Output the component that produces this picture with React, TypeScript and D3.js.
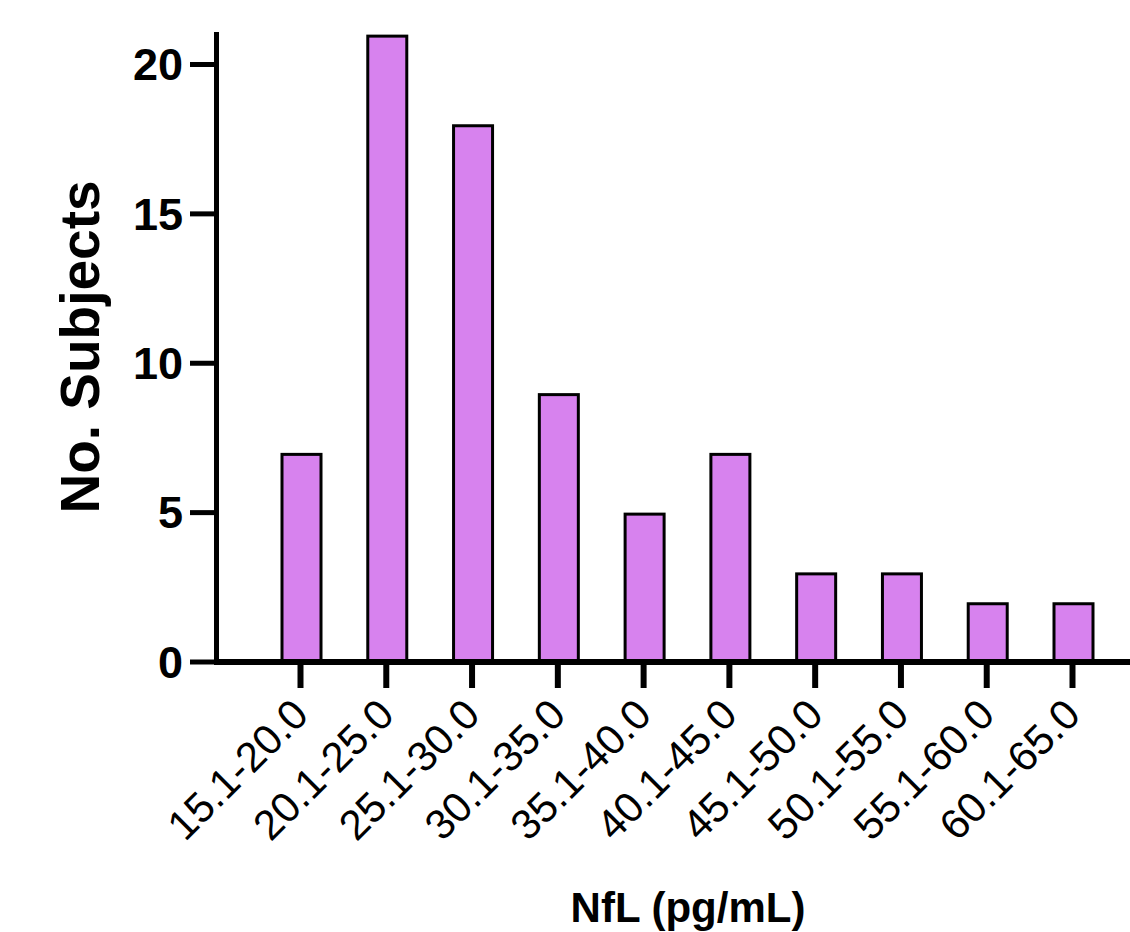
import * as d3 from "d3";
import { useRef, useEffect } from "react";

const bins = [
  "15.1-20.0",
  "20.1-25.0",
  "25.1-30.0",
  "30.1-35.0",
  "35.1-40.0",
  "40.1-45.0",
  "45.1-50.0",
  "50.1-55.0",
  "55.1-60.0",
  "60.1-65.0",
];
const counts = [7, 21, 18, 9, 5, 7, 3, 3, 2, 2];
const yTicks = [0, 5, 10, 15, 20];

const width = 1130;
const height = 932;
const axisX = 216.5;
const zeroY = 662;
const topY = 32;
const font = "'Liberation Sans', Arial, Helvetica, sans-serif";
const barFill = "#d782ee";

export default function App() {
  const ref = useRef<SVGSVGElement>(null);

  useEffect(() => {
    if (!ref.current) return;
    const svg = d3.select(ref.current);
    svg.selectAll("*").remove();

    const y = d3.scaleLinear().domain([0, 20]).range([zeroY, 64.5]);
    const x = d3.scalePoint<string>().domain(bins).range([300.5, 1072.5]);
    const barW = 39;

    // bars
    svg
      .append("g")
      .selectAll("rect")
      .data(counts)
      .join("rect")
      .attr("x", (_, i) => (x(bins[i]) as number) + 1 - barW / 2)
      .attr("y", (d) => y(d) + 1.5)
      .attr("width", barW)
      .attr("height", (d) => zeroY - y(d) - 1.5)
      .attr("fill", barFill)
      .attr("stroke", "#000")
      .attr("stroke-width", 3);

    // y axis
    const gy = svg.append("g");
    gy.append("line")
      .attr("x1", axisX)
      .attr("x2", axisX)
      .attr("y1", topY)
      .attr("y2", zeroY + 3)
      .attr("stroke", "#000")
      .attr("stroke-width", 5);
    const yt = gy.selectAll("g.tick").data(yTicks).join("g").attr("class", "tick");
    yt.append("line")
      .attr("x1", 190)
      .attr("x2", axisX)
      .attr("y1", (d) => y(d))
      .attr("y2", (d) => y(d))
      .attr("stroke", "#000")
      .attr("stroke-width", 5);
    yt.append("text")
      .attr("x", 183)
      .attr("y", (d) => y(d))
      .attr("dy", "0.35em")
      .attr("text-anchor", "end")
      .attr("font-family", font)
      .attr("font-weight", "bold")
      .attr("font-size", 45)
      .text((d) => d);

    // x axis
    const gx = svg.append("g");
    gx.append("line")
      .attr("x1", axisX - 2.5)
      .attr("x2", width)
      .attr("y1", zeroY)
      .attr("y2", zeroY)
      .attr("stroke", "#000")
      .attr("stroke-width", 6);
    const xt = gx.selectAll("g.tick").data(bins).join("g").attr("class", "tick");
    xt.append("line")
      .attr("x1", (d) => x(d) as number)
      .attr("x2", (d) => x(d) as number)
      .attr("y1", zeroY)
      .attr("y2", 688)
      .attr("stroke", "#000")
      .attr("stroke-width", 6);
    xt.append("text")
      .attr(
        "transform",
        (d) => `translate(${(x(d) as number) + 10},${717}) rotate(-45)`,
      )
      .attr("text-anchor", "end")
      .attr("font-family", font)
      .attr("font-size", 42)
      .text((d) => d);

    // titles
    svg
      .append("text")
      .attr("transform", `translate(99,347) rotate(-90)`)
      .attr("text-anchor", "middle")
      .attr("font-family", font)
      .attr("font-weight", "bold")
      .attr("font-size", 55)
      .text("No. Subjects");

    svg
      .append("text")
      .attr("x", 688)
      .attr("y", 922)
      .attr("text-anchor", "middle")
      .attr("font-family", font)
      .attr("font-weight", "bold")
      .attr("font-size", 42)
      .text("NfL (pg/mL)");
  }, []);

  return (
    <div style={{ position: "absolute", left: 0, top: 0 }}>
      <svg ref={ref} width={width} height={height} style={{ display: "block", background: "#fff" }} />
    </div>
  );
}
